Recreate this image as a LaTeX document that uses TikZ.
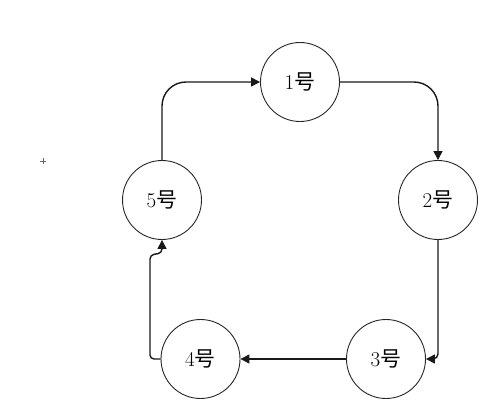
\documentclass[tikz,border=0pt]{standalone}
\usepackage{fontspec}
\newfontfamily\cjk{Noto Sans CJK SC}
\usetikzlibrary{arrows.meta}
\begin{document}
\begin{tikzpicture}[x=1pt,y=-1pt,
  station/.style={circle,draw=black!85,line width=0.9pt,minimum size=79pt,inner sep=0pt,font=\fontsize{21}{24}\selectfont},
  link/.style={draw=black!90,line width=1.4pt,rounded corners=24pt,-{Triangle[length=9pt,width=9pt]}}]
\useasboundingbox (0,0) rectangle (496,417);
\node[station] (n1) at (300,82) {1{\cjk\mdseries 号}};
\node[station] (n2) at (438,200) {2{\cjk 号}};
\node[station] (n3) at (386,359) {3{\cjk 号}};
\node[station] (n4) at (200.5,359) {4{\cjk 号}};
\node[station] (n5) at (162,200) {5{\cjk 号}};
\draw[link] (n1.east) -| (n2.north);
\draw[link,rounded corners=5pt] (n2.south) |- (n3.east);
\draw[link] (n3.west) -- (n4.east);
\draw[link,rounded corners=4pt] (n4.west) -- (150,359) -- (150,255) -- (162,253) -- (n5.south);
\draw[link] (n5.north) |- (n1.west);
\draw[black!60,line width=0.6pt] (40,161) -- (46,161) (43,158) -- (43,164);
\end{tikzpicture}
\end{document}
